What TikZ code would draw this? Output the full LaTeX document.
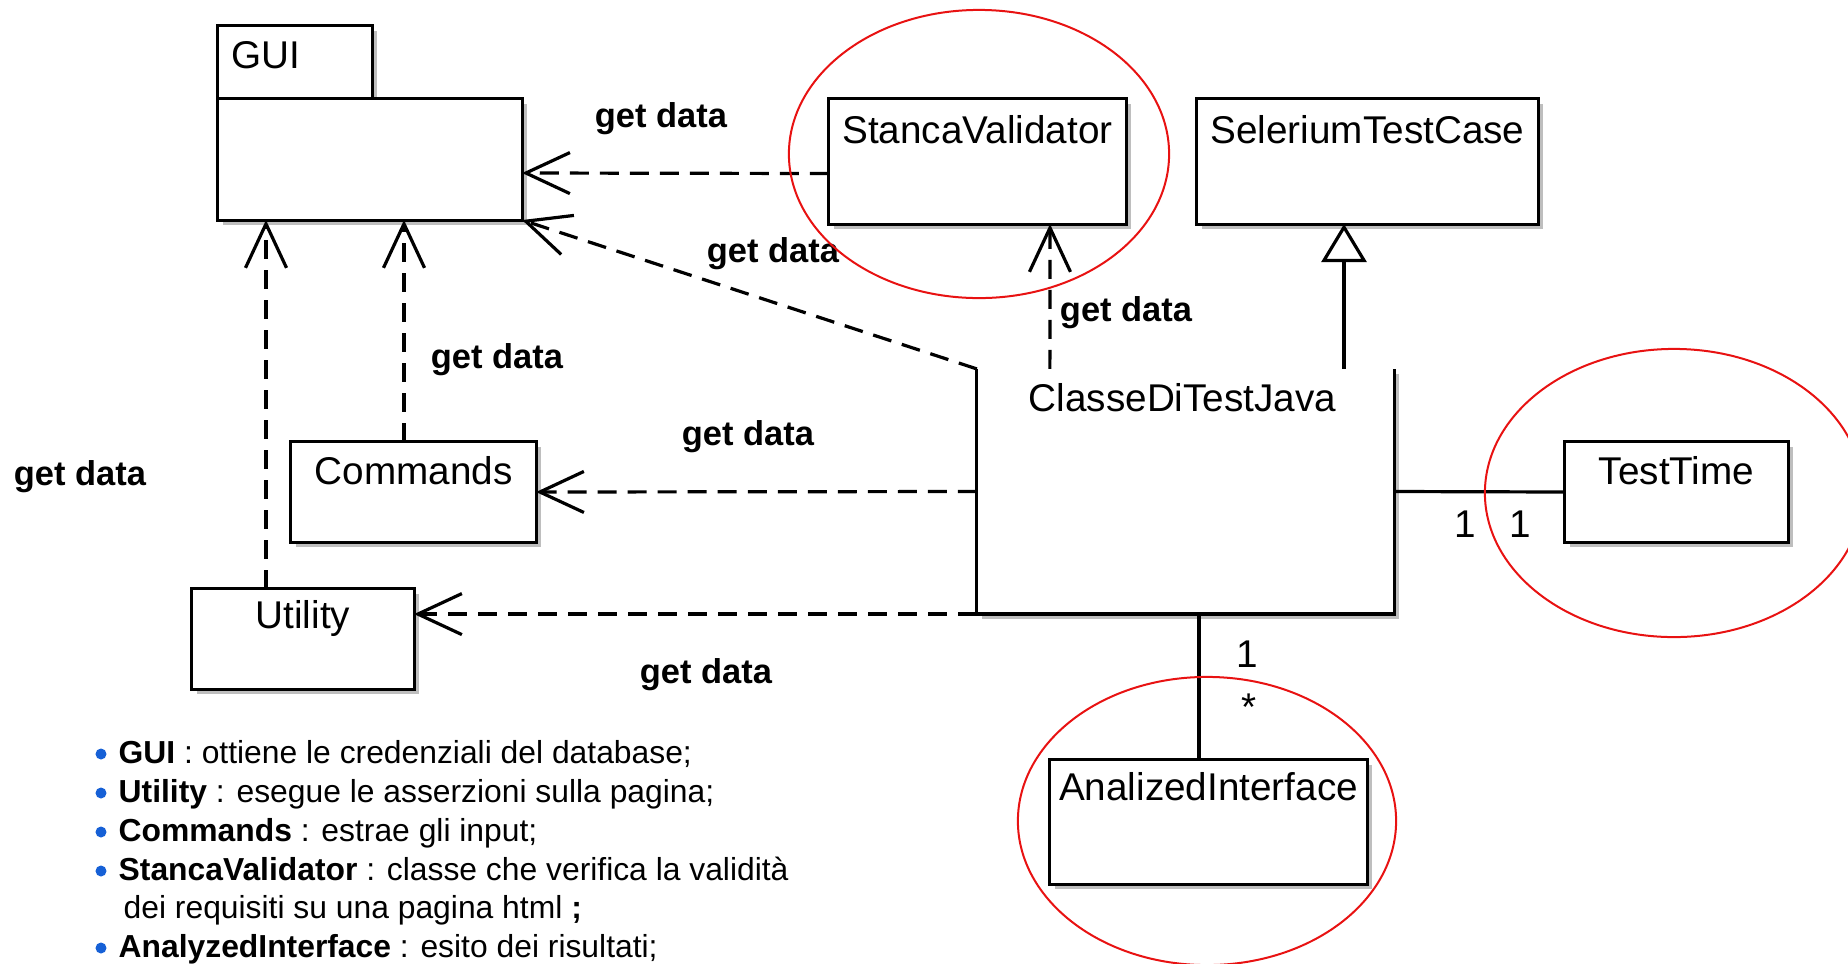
\documentclass[tikz,border=0pt]{standalone}
\usepackage{fontspec}
\setmainfont{Liberation Sans}
\usetikzlibrary{arrows.meta, calc, shadows}
\definecolor{bulletblue}{RGB}{22,96,214}
\definecolor{ringred}{RGB}{232,18,18}
\definecolor{shadowgray}{RGB}{190,190,190}
\tikzstyle{classbox}=[rectangle, draw, line width=0.03cm, fill=white, inner sep=0, outer sep=0, drop shadow={shadow xshift=0.05cm, shadow yshift=-0.05cm, fill=shadowgray, opacity=1}]
\tikzstyle{classname}=[inner sep=0, font=\fontsize{11}{13}\selectfont]
\tikzstyle{dep}=[line width=0.032cm, dash pattern=on 0.19cm off 0.11cm, -{Straight Barb[length=4.4mm,width=4.1mm]}]
\tikzstyle{gen}=[line width=0.032cm, -{Triangle[open,length=3.8mm,width=4.5mm]}]
\tikzstyle{assoc}=[line width=0.032cm]
\tikzstyle{getlbl}=[inner sep=0, font=\bfseries\fontsize{9.8}{12}\selectfont]
\tikzstyle{mult}=[inner sep=0, font=\fontsize{11}{13}\selectfont]
\tikzstyle{ring}=[ringred, line width=0.02cm]
\tikzstyle{legend}=[anchor=base west, inner sep=0, font=\fontsize{9.05}{11}\selectfont]

\begin{document}
\begin{tikzpicture}[x=0.01cm, y=-0.01cm]
\useasboundingbox (0,0) rectangle (1848,963);

% classes
\node[classbox, minimum width=1.54cm, minimum height=0.73cm] (guitab) at (295,62.5) {};
\node[classbox, minimum width=3.04cm, minimum height=1.21cm] (gui) at (370,159.5) {};
\node[classbox, minimum width=2.97cm, minimum height=1.25cm] (sv) at (977.5,161.5) {};
\node[classbox, minimum width=3.41cm, minimum height=1.25cm] (stc) at (1367.5,161.5) {};
\node[classbox, minimum width=2.45cm, minimum height=1.00cm] (cmd) at (413.5,492) {};
\node[classbox, minimum width=2.22cm, minimum height=1.00cm] (util) at (303,639) {};
\node[classbox, minimum width=2.23cm, minimum height=1.00cm] (tt) at (1676.5,492) {};
\node[classbox, minimum width=3.17cm, minimum height=1.24cm] (ai) at (1208.5,822) {};

% ClasseDiTestJava: no top edge
\node[inner sep=0, outer sep=0, minimum width=4.17cm, minimum height=2.45cm] (cdtj) at (1185.5,491.5) {};
\fill[shadowgray] ($(cdtj.north east)+(0,5)$) rectangle ($(cdtj.south east)+(5,5)$);
\fill[shadowgray] ($(cdtj.south west)+(5,0)$) rectangle ($(cdtj.south east)+(5,5)$);
\draw[assoc] (cdtj.north west) -- (cdtj.south west) -- (cdtj.south east) -- (cdtj.north east);

\node[classname, anchor=west] (guiname) at ($(guitab.north west)+(13,29)$) {GUI};
\node[classname] (svname) at ($(sv.north)+(0,31)$) {StancaValidator};
\node[classname] (stcname) at ($(stc.north)+(0,31)$) {SeleriumTestCase};
\node[classname] (cdtjname) at ($(cdtj.north)+(-3,29)$) {ClasseDiTestJava};
\node[classname] (cmdname) at ($(cmd.north)+(0,29)$) {Commands};
\node[classname] (utilname) at ($(util.north)+(0,30)$) {Utility};
\node[classname] (ttname) at ($(tt.north)+(0,29)$) {TestTime};
\node[classname] (ainame) at ($(ai.north)+(0,27)$) {AnalizedInterface};

% dependencies
\draw[dep] ($(sv.west)+(0,12)$) -- ($(gui.east)+(0,13.5)$);
\draw[dep] (cdtj.north west) -- (gui.south east);
\draw[dep] ($(cdtj.north west)+(73,0)$) -- ($(sv.south)+(72.5,0)$);
\draw[dep] ($(cmd.north)+(-9.5,0)$) -- ($(cmd.north |- gui.south)+(-9.5,0)$);
\draw[dep] ($(util.north)+(-37,0)$) -- ($(util.north |- gui.south)+(-37,0)$);
\draw[dep] (cdtj.west) -- (cmd.east);
\draw[dep] (cdtj.south west) -- (util.east |- cdtj.south west);
\draw[gen] ($(stc.south |- cdtj.north)+(-23.5,0)$) -- ($(stc.south)+(-23.5,0)$);
\draw[assoc] (cdtj.east) -- (tt.west);
\draw[assoc] ($(cdtj.south)+(13.5,0)$) -- ($(ai.north)+(-9.5,0)$);

\node[getlbl] (lbl1) at (661,119) {get data};
\node[getlbl] (lbl2) at (773,254) {get data};
\node[getlbl] (lbl3) at (1126,313) {get data};
\node[getlbl] (lbl4) at (497,360) {get data};
\node[getlbl] (lbl5) at (80,477) {get data};
\node[getlbl] (lbl6) at (748,437) {get data};
\node[getlbl] (lbl7) at (706,675) {get data};

\node[mult] (m1) at (1465,524) {1};
\node[mult] (m2) at (1520,524) {1};
\node[mult] (m3) at (1247,654) {1};
\node[mult] (m4) at (1249,707) {*};

% red rings
\draw[ring] (979,154) ellipse [x radius=1.90cm, y radius=1.44cm];
\draw[ring] (1674,493) ellipse [x radius=1.89cm, y radius=1.44cm];
\draw[ring] (1207,821) ellipse [x radius=1.89cm, y radius=1.44cm];

% legend
\foreach \y in {754,793,832,871,948}
  \fill[bulletblue] (101,\y) circle (0.055cm);
\node[legend] (leg1) at (118,763) {\textbf{GUI} : ottiene le credenziali del database;};
\node[legend] (leg2) at (118,802) {\textbf{Utility} : esegue le asserzioni sulla pagina;};
\node[legend] (leg3) at (118,841) {\textbf{Commands} : estrae gli input;};
\node[legend] (leg4) at (118,880) {\textbf{StancaValidator} : classe che verifica la validità};
\node[legend] (leg5) at (123,918) {dei requisiti su una pagina html \textbf{;}};
\node[legend] (leg6) at (118,957) {\textbf{AnalyzedInterface} : esito dei risultati;};
\end{tikzpicture}
\end{document}
